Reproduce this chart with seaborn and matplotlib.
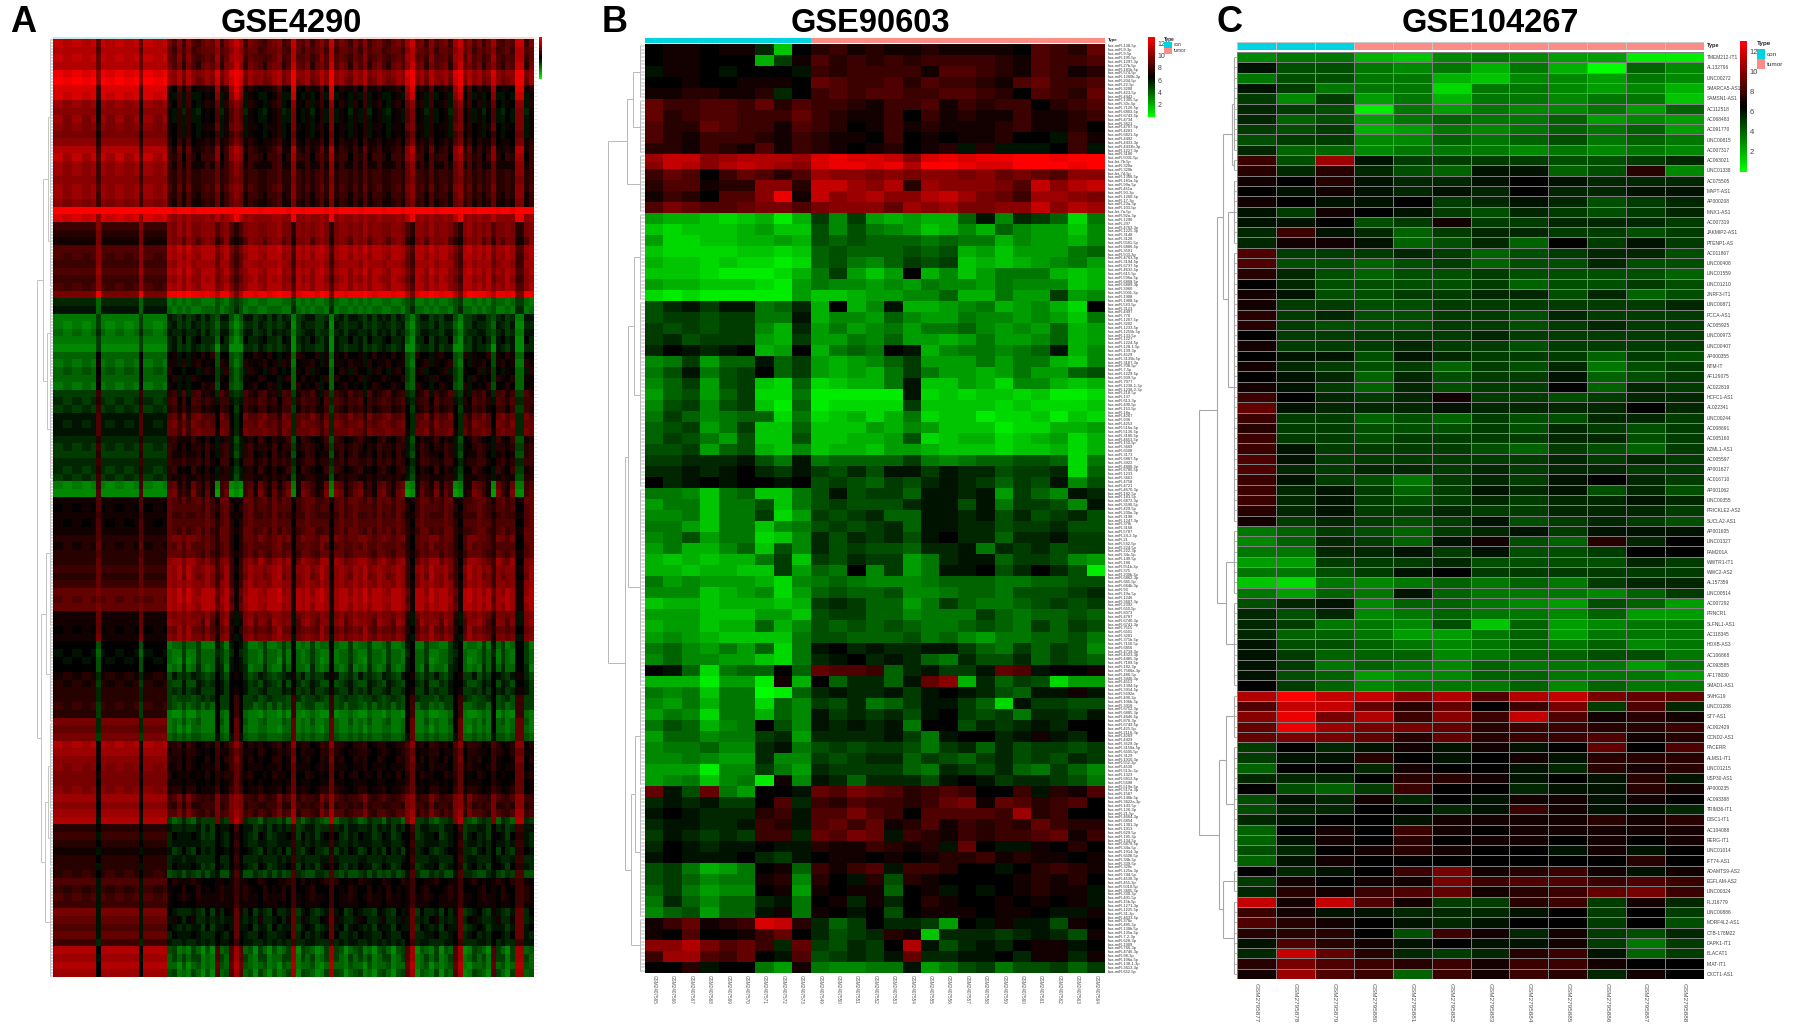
import numpy as np
import matplotlib
matplotlib.use("Agg")
import matplotlib.pyplot as plt
from matplotlib.colors import LinearSegmentedColormap, ListedColormap
import seaborn as sns

W, H = 1796, 1033

# ---------------------------------------------------------------
# Values: one character per cell, base 36, value = int(c, 36) / 2
# 0 = bright green (0), d = black (6.5), q = bright red (13)
# ---------------------------------------------------------------

# Panel A: expression blocks by sample cluster (10 clusters)
A_BANDS = [
    "nminlkjhig", "mmhmkjigih", "nmimlkihhg", "mminkjjhif",
    "pokpomlkkj", "qpkpnmlkji",
    "oogolhfdee", "ongnkgecdc",
    "lkekigfdec", "kkejhfecdb", "ljejhfecdc",
    "kjfjifedec", "jjeigfeddc", "kkfjhgfdee",
    "mmgmkigefe", "nlhlkhgfgd", "lkgkihgeee",
    "lkgkihgfgf", "kkgjihgfgf", "lkhkjihfgf", "lkgkihgfge", "kjgjihgefe",
    "qqqqqqqpqq",
    "onkpmllkkk",
    "ggkfhlkjkj", "ffjfhlkjkj",
    "eejefkkjjh",
    "hhkhjnmlml", "hgkgimmlmk", "ggkgimlkll", "hhlhjnmlmk", "ggkgimlkmk", "hgkhjmmlmk",
    "jjpjmqppop",
    "bb8a977878", "cc8b988787",
    "77a79acbac", "76a68abcab", "87b79bcbac", "77a68abcbd",
    "66a66abcab",
    "88d89cdefd", "78e79ceedf", "89d8adfdec", "88e8acdfde", "78d89cedfd",
    "aagabcfgeh", "bafbcdghfg", "abgadefgeg",
    "cchbdfhihj", "cbhbdgijhi", "cchbegiiij",
    "bbf9cefgde", "abgacdgfef", "aaf9cegedf", "bbgbdfgfeg", "bafacdfgde", "abg9cefeef",
    "76g76ehieg", "66h65fijeg",
    "eeheegihgi", "dehdfhihgh", "eegeegiggh", "edhdfhihhh", "eehefgihgi",
    "ffhdfjijhi", "efidfjihhh", "ffhefiiigh",
    "ffidglklij", "ggiegmlkkj", "ffidgmlkji", "ggiegllkjk",
    "iijeinmlmk", "hiiehnmlml", "iijeimmlmk",
    "eeicfkkjij", "eeiceklkhj", "deidfljihi", "eejcelkjij",
    "dd9dc8787a", "cd8db7878a", "dc9dc6878a", "dd9dc7788b",
    "efbeda9cab", "feadd9a9bc", "ffbedaabac",
    "ffbgdaa9ba", "gfagd8a98a", "ffagd67678",
    "jjbid77879", "iibid67878", "jjaic88989",
    "mlekhgffed", "lleigfefde", "kkejgffedd", "kjdigfeeed", "jjeifefdde", "jjdifeeedd", "kjeigfefed",
    "llekjjghfg", "kkdkjigfgf", "lleljjhhfg",
    "mmcmj9a8ab",
    "ffdgdbcbac", "ggcfdcbdac", "ffdgdcbcbc", "eecfdbcabd", "ffdgdcbcbb", "ffcfdcbdac",
    "fgdhcb9ab9",
    "hhcgeedfde", "gfcgededdf", "hgcgeeedef", "ggcgededee",
    "jjciebdcab", "iicicdcebb", "hhcicbdcac", "iicidcbdbc",
    "ggbgdbcbbc",
    "mmdlh79a68", "llclh88a7a", "mmdmi68879", "lldlh79a68",
]
# sample -> cluster, 24 con then 77 tumor
A_SAMPLE_CLUSTER = ("001100110" "2" "01100110" "2" "00110"
                    "6759579868496434"
                    "96879865973876985737"
                    "68967598679867438695"
                    "786943857698479873396")
A_CON_N = 24

# Panel B: 9 con samples | 16 tumor samples
B_ROWS = [
    "deedeeb3d fgef eefe eeed hgfi", "deeddd4ae hfgf gfgg ggfe hggh",
    "ceedcdddc gfgg ggeh hgfe hgef", "ddeddeeed ihgg hfhg gfeh iggh",
    "eeffeefbd ghgh hggh hgfd hgfi",
    "igghhgifh ggfe gghe gfgg dfgh", "ifghhgggi gfee gdge feeg eefg",
    "hffihggeh gfde gefe eefg eefd", "hfegggfeg feed gded eefd dcge",
    "ffegfeheg fede fdef cfcc cdgc",
    "lnnklmmml opoo nkop oppq qpqq", "knmkmnmlk oppo pmqq pooq qqpq",
    "gihdgihfh lkkj kjkk jkij ihkk", "fhheffkkf nnlk mflk kkjh nkmn",
    "egfdhhkpe nklm kkmn ljig llkj", "hjihhijjh jkkk ilkl jjkk nkml",
    "544323414 a6a5 4544 8c6b a827", "323334533 9697 6534 6486 5536",
    "522334454 9898 8878 7746 5546", "322223323 8988 8989 4535 5578",
    "433232212 8976 8a9a 3434 5675", "333211124 7a53 5d46 3577 7434",
    "544333215 7665 6576 6576 6634", "212111115 3345 5668 4475 5a56",
    "9bcacc78b 4d46 c445 6745 642d", "9aa9aa77c 4665 8655 7665 6537",
    "a9a9aa64b 5756 7577 8656 5845", "ab9aaa54a 5576 8554 5755 6845",
    "bdcbcd45d 4787 dc46 7767 8c46",
    "67a588c8a 5456 8a55 5757 7436", "79c79ad8a 5454 7a75 5457 5589",
    "68a59a328 2344 7c33 5426 6434", "58958a227 1111 1c23 2332 3112",
    "69a69a318 1222 2a33 3323 2223", "7a8678827 2342 4723 3122 3132",
    "89a57a338 3335 4653 3312 2445", "8a9759339 3344 5923 4423 4524",
    "99a589436 3443 5543 3323 3424",
    "aabbbc97c 7888 8a76 7889 9827", "bbcbcdbac a9b9 ccac bb9a ab28",
    "dbcdcddcd 9a98 a9bc ba8a 9c69",
    "776378337 9c9a a8cc bc5a 86cb", "577377937 9a99 9bcc 9c7a a96c",
    "667377a25 a9ab 88cc bc9b 9ab9", "775377367 9a9a b8cc bb9a ab99",
    "679577236 b9ba b9cd bb8b bcaa", "574468396 b9a9 98bb c7ba b9aa",
    "4343447a3 a9ba a57b cc8a a965", "4434433a5 87d6 a57c cd9b db91",
    "756555426 7876 6678 8877 8899", "666345625 8988 9667 8879 99ab",
    "344344434 aba8 857a 8778 9a9a", "555333553 9aa8 8677 7a87 8898",
    "455344846 9898 9877 8987 a8a9", "565433337 9988 8978 6577 8897",
    "786575827 cdbc bbcc a87a 8a96", "686655327 bcdb cb87 b99b 8a98",
    "dc82788d8 ihhg 8bca acih cdde", "4441551e4 d8bb 8cik 4b8a 9255",
    "767377018 bcbb cacd cb98 ccec", "657477286 a9b7 8acc a82c aa99",
    "576277486 caba b9cd a9a7 bbac", "798467d96 cbcb c7dd 9bab cbdd",
    "588677ab5 bbbb ca7c ddbc ecbd", "677866bc7 9a9a a97a b8b9 aa9a",
    "667655b66 a9ab b8a9 8ab9 a9ba", "555166a75 baaa a87b a9b8 7a86",
    "5673671e6 cb8b bb9c dcab ba97",
    "ic9i75ddc ihji hfgh gddg cfeh", "bcbcaadhb gfhg gfgi jeih fghd",
    "cdcbbbfgc hhjh gdhh hhgl fgdd", "bccbbcgfc higi efhe gfgf igff",
    "acbabaggb ihji cgfe gfgg hieg", "bdcbccdcc feeg fefc idcc edfd",
    "cdcccdbac deed edef fgef eede", "9a7457de8 gegh cggf ddcd fgfe",
    "9a8677ef6 fdcf 9fed ddde fefd", "8a7566de5 edee 8dec dcde feec",
    "7b8688bc7 debe bdfe dded edec", "689588ce7 edcd 9dee edee dcce",
    "egiefgonf b8ad bba5 dcec c9ed", "edhddegid b9ab fe3b bbab cb9e",
    "kkmjhigbi a9ba dmc9 bcbd eecd", "gllhgidch 9aba cibb ccdb eebe",
    "ddfcdd75e 7667 7c57 9a79 9a8a",
]
B_ROW_COUNT = [3] * 10 + [2] * 2 + [3] * 73
B_CON_N = 9
B_SAMPLES = ["GSM2407%d" % n for n in list(range(565, 574)) + list(range(549, 565))]
B_MIRNAS = """138-5p 9-3p 9-5p 195-5p 1297-3p 27b-5p 181b-5p 574-5p 1260b-3p 204-5p 22-5p 3200 423-5p 4443
1305-5p 30c-5p 7126-5p 6803-5p 6743-5p 4734 3621 4707-5p 4281 6821-5p 4492 4433-3p 4433b-3p 1227-3p 3180 5001-5p
let-7b-5p 320a 320b let-7d-5p 1306-5p 181a-5p 99a-5p 451a 93-3p 1260-5p 17-3p 23a-3p 103-5p let-7a-5p 92a-3p 1290
297 4763-3p 1225-3p 3148 3128 5581-5p 6886-5p 3591 503-3p 4763-5p 3194-5p 6737-5p 4632-5p 615-5p 596a-5p 6808-5p
6889-3p 3960 5001-3p 1908 1908-5p 583-5p 3123 4497 770 1207-5p 3202 1233-5p 1255b-5p 133-5p 1227 1224-5p 128-1-5p
139-3p 4529 3135b-5p 3187-3p 708-5p 7-5p 1229-5p 939-5p 7977 1238-1-3p 1238-2-3p 218-5p 137 613-3p 490-5p 153-5p
18a 4267 936 4253 516a-5p 5136-5p 3180-5p 4653-5p 150-5p 3669 6508 3173 6887-5p 3922 4800-3p 6780-5p 1233 3663
4758 4721 4670-3p 182-5p 183-5p 6872-3p 3590-5p 429-5p 200a-3p 3198 1247-3p 378i 3168 5787 24-2-5p 21 542-5p
224-5p 222-3p 34c-5p 149-5p 186 551b-3p 375 200b-3p 6862-3p 665-5p 664b-3p 93 19a-5p 1246 3607-3p 2392 650-5p
8073 4787 6740-3p 6741-3p 7515 6501 3201 371b-5p 7150-5p 6856 4739-3p 4323-3p 4485-3p 7109-5p 182-3p 7566a-3p
486-5p 3940-3p 4513 1304-5p 3914-5p 5692a 490-3p 106b-3p 3918 6752-3p 6885-3p 4646-5p 876-3p 6749-5p 425-5p 2116-3p
4269 4429 3529-3p 3150a-5p 6505-5p 3129 1910-3p 552-3p 4530 513c-3p 1323 6812-5p 5698 519a-5p 517a-3p 1587 146b-5p
3622a-3p 143-5p 126-3p 21-5p 4664-3p 6854 1301-3p 1913 629-5p 195-3p 134-5p 6878-5p 34a-5p 1914-3p 6508-5p 34b-3p
339-5p 320c 125a-3p 744-5p 4530-3p 455-3p 5010-5p 3605-3p 330-3p 491-5p 15b-5p 1271-3p 1225-5p 31-3p 4633-5p 378c
485-3p 130b-5p 135a-5p 7-2-3p 628-3p 1909 766-3p 4746-3p 98-3p 106a-5p 138-1-3p 3613-3p 652-5p""".split()

# Panel C: 3 con samples, 9 tumor samples
C_ROWS = [
    "677436765511", "c99767474086", "799774366576", "ca7772776564", "a6a574776773",
    "ba9175766758", "b89578778565", "a9a457678785", "9aa668789787", "b88677767676",
    "g9lcaaaa99ab", "fbfb98cc89f6", "edfcbbcdcbbb", "dcecbcbdbbcc", "edccdabcb9ab",
    "caedca9ba9ab", "ccd9aeaabbba", "bgcb8abbaa9a", "beec89b8daca", "haaaba89abb9",
    "h9989a899b99", "fb9899a99998", "db9999a899a9", "ec99aabb9b89", "eaa99aaaaaab",
    "fab99aa9baaa", "fa999aa9abaa", "daaaaabaaaaa", "eaaabaa9aaaa", "dcc9cbaaa8a9",
    "eba9a8a9b79a", "dcb8b9aac89a", "eca8b9aad8ba", "gdbabeaa9abb", "icbbbcbbbbdb",
    "gaa898a99bba", "faa999a9ba9a", "gaa9aaaabb9a", "gcaaaa98a98a", "hcaaaaaababa",
    "hbabbababbaa", "gca97abacdba", "gbca8acbc9b9", "gbca9ababbcb", "fbcaabaabbba",
    "eaba9ac9aba9", "78a98abcaccc", "68ba8ce98fbd", "77bbcac99add", "55aaab9999ba",
    "779acdaaaaaa", "327678787abb", "7587c877768a", "9bc688765985", "b9b678776855",
    "ba7769385677", "b88755785777", "c99876787867", "ca8886788997", "ca7876877757",
    "c98566887775", "da8677786877", "mqnnkmhmnjii", "hnnifidgjahb", "kpjmgkgnhefe",
    "ipljjifggffg", "ijjififgghef", "adbcececdidh", "accfdcdecfff", "8ddbeddcbfef",
    "bbbdffecdcfc", "d98agddbccfe", "9cbebdceeced", "9bbddbcgeccb", "bcddceeeefef",
    "8dedgedeeeee", "8cedfdeedede", "9bdefeddcecd", "8cedddddddfd", "dbcdgjefgece",
    "aedeejghhghg", "bfeghiefgijg", "nenheaafgaeb", "geccbbbcdada", "hfedcbcddad9",
    "fffd9gebea9b", "chfecdccea7a", "bnifbabfgc8a", "fjhgfgeggedd", "elhg8gegfbed",
]
C_CON_N = 3
C_SAMPLES = ["GSM2795%d" % n for n in range(877, 889)]
C_GENES = ["TMEM212-IT1", "AL132796", "LINC00272", "SMARCA5-AS1", "SAMSN1-AS1", "AC112518", "AC068483",
           "AC091770", "LINC00815", "AC007317", "AC063021", "LINC01338", "AC075505", "MAPT-AS1", "AP000208",
           "MNX1-AS1", "AC007319", "JAKMIP2-AS1", "PTENP1-AS", "AC011867", "LINC00408", "LINC01559",
           "LINC01210", "ZNRF3-IT1", "LINC00871", "PCCA-AS1", "AC005925", "LINC00973", "LINC00407",
           "AP000355", "NTM-IT", "AF129075", "AC022819", "HCFC1-AS1", "AL022341", "LINC00244", "AC008691",
           "AC005160", "KZML1-AS1", "AC005597", "AP001627", "AC016710", "AP001062", "LINC00355",
           "PRICKLE2-AS2", "SUCLA2-AS1", "AP001605", "LINC01327", "FAM201A", "WWTR1-IT1", "WWC2-AS2",
           "AL157359", "LINC00514", "AC007292", "PRNCR1", "SLFNL1-AS1", "AC118345", "HOXB-AS3", "AC106868",
           "AC093585", "AF178030", "SMAD1-AS1", "SNHG19", "LINC01288", "ST7-AS1", "AC002429", "CCND2-AS1",
           "PACERR", "ALMS1-IT1", "LINC01215", "USP30-AS1", "AP000235", "AC093388", "TRIM36-IT1",
           "DISC1-IT1", "AC104088", "RERG-IT1", "LINC01014", "IFT74-AS1", "ADAMTS9-AS2", "EGFLAM-AS2",
           "LINC00324", "FLJ16779", "LINC00886", "MORF4L2-AS1", "CTB-178M22", "DAPK1-IT1", "BLACAT1",
           "MIAT-IT1", "CXCT1-AS1"]

# cluster trees: (merge height, upper, lower), an int is a group of leaves
A_TREE = (1.0, (0.62, (0.3, 52, 31), (0.4, 30, 34)),
          (0.72, (0.45, 49, 32), (0.5, (0.3, 29, 19), 37)))
B_TREE = (1.0, (0.5, (0.33, 15, 15), 16),
          (0.54, (0.45, (0.3, 24, 51), 54), (0.38, (0.28, 27, 36), 15)))
C_TREE = (1.0, (0.52, (0.36, (0.14, 10, 2), (0.24, 7, 27)), (0.3, 7, 9)),
          (0.48, (0.3, 5, 12), (0.36, 3, 8)))

CON_COLOR = "#00d3e0"
TUMOR_COLOR = "#fb8d86"
GBR = LinearSegmentedColormap.from_list("gbr", ["#00ff00", "#000000", "#ff0000"])
VMIN, VMAX = 0, 13


def decode(rows, n):
    out = []
    for r in rows:
        r = r.replace(" ", "").ljust(n, "d")[:n]
        out.append([int(c, 36) / 2 for c in r])
    return np.array(out)


# ---------------------------------------------------------------
# Layout helpers, pixel boxes of the 1796x1033 figure
# ---------------------------------------------------------------
def box(fig, x0, y0, x1, y1):
    return fig.add_axes([x0 / W, 1 - y1 / H, (x1 - x0) / W, (y1 - y0) / H])


def put_text(fig, x, y, s, **kw):
    fig.text(x / W, 1 - y / H, s, **kw)


def draw_tree(ax, node, start, color, lw, leaf_h, leaf_color, leaf_lw):
    if isinstance(node, int):
        ys = start + np.arange(node) + 0.5
        ax.hlines(ys, 0, leaf_h, color=leaf_color, lw=leaf_lw)
        ax.vlines(leaf_h, ys[0], ys[-1], color=color, lw=lw)
        return (ys[0] + ys[-1]) / 2, leaf_h, start + node
    h, upper, lower = node
    y1, h1, nxt = draw_tree(ax, upper, start, color, lw, leaf_h, leaf_color, leaf_lw)
    y2, h2, nxt = draw_tree(ax, lower, nxt, color, lw, leaf_h, leaf_color, leaf_lw)
    ax.hlines([y1, y2], [h1, h2], h, color=color, lw=lw)
    ax.vlines(h, y1, y2, color=color, lw=lw)
    return (y1 + y2) / 2, h, nxt


def tree_panel(fig, tree, n_leaves, rect, color, lw, leaf_h, leaf_color, leaf_lw):
    ax = box(fig, *rect)
    draw_tree(ax, tree, 0, color, lw, leaf_h, leaf_color, leaf_lw)
    ax.set_xlim(1.0, 0)
    ax.set_ylim(n_leaves, 0)
    ax.axis("off")


def type_strip(fig, n_con, n_total, rect, colors, lw=0):
    ax = box(fig, *rect)
    types = np.array([[0] * n_con + [1] * (n_total - n_con)])
    sns.heatmap(types, ax=ax, cmap=ListedColormap(colors), vmin=0, vmax=1, cbar=False,
                xticklabels=False, yticklabels=False, linewidths=lw, linecolor="#c8c8c8")


def legend_block(fig, x, y0, y1, title_y, size, text_x):
    ax = box(fig, x, y0, x + 8, y1)
    sns.heatmap([[0], [1]], ax=ax, cmap=ListedColormap([CON_COLOR, TUMOR_COLOR]), cbar=False,
                xticklabels=False, yticklabels=False)
    put_text(fig, x, title_y, "Type", fontsize=size, fontweight="bold", color="#222222", va="center")
    mid = (y0 + y1) / 2
    put_text(fig, text_x, (y0 + mid) / 2, "con", fontsize=size, color="#333333", va="center")
    put_text(fig, text_x, (mid + y1) / 2, "tumor", fontsize=size, color="#333333", va="center")


def heat(fig, matrix, rect, cbar_rect, cbar_size, ticks=True, **kw):
    ax = box(fig, *rect)
    cax = box(fig, *cbar_rect)
    sns.heatmap(matrix, ax=ax, cmap=GBR, vmin=VMIN, vmax=VMAX, cbar_ax=cax, **kw)
    ax.collections[0].colorbar.outline.set_visible(False)
    if ticks:
        cax.set_yticks([2, 4, 6, 8, 10, 12])
        cax.tick_params(length=0, pad=2, labelsize=cbar_size, labelcolor="#444444")
    else:
        cax.set_yticks([])
    return ax


def main():
    sns.set_theme(style="white")
    plt.rcParams["font.family"] = ["Liberation Sans", "DejaVu Sans"]
    fig = plt.figure(figsize=(W / 100, H / 100), dpi=100, facecolor="white")

    # titles and panel letters
    for x, s in [(291, "GSE4290"), (870, "GSE90603"), (1490, "GSE104267")]:
        put_text(fig, x, 31.5, s, fontsize=23.5, fontweight="bold", ha="center", va="baseline", color="black")
    for x, s in [(10, "A"), (602, "B"), (1217, "C")]:
        put_text(fig, x, 31.5, s, fontsize=26, fontweight="bold", ha="left", va="baseline", color="black")

    # ---- panel A
    clusters = [int(c) for c in A_SAMPLE_CLUSTER]
    a_matrix = decode(A_BANDS, 10)[:, clusters]
    n_a = a_matrix.shape[1]
    ax = heat(fig, a_matrix, (53, 39, 534, 977), (538.5, 37, 541.5, 79), 4, ticks=False,
              xticklabels=False, yticklabels=False)
    ax.yaxis.tick_right()
    ax.set_yticks(np.arange(0, a_matrix.shape[0], 0.5))
    ax.set_xticks(np.arange(n_a) + 0.5)
    ax.tick_params(axis="both", length=2, width=0.4, color="#cccccc", labelright=False, labelbottom=False, labelleft=False)
    type_strip(fig, A_CON_N, n_a, (53, 37, 534, 38.6), ["#c4ecf0", "#f6d8d6"])
    tree_panel(fig, A_TREE, 313, (37, 39, 53, 977), "#c4c4c4", 0.7, 0.2, "#5a5a5a", 0.3)

    # ---- panel B
    b_matrix = np.repeat(decode(B_ROWS, 25), B_ROW_COUNT, axis=0)
    n_rows = b_matrix.shape[0]
    ax = heat(fig, b_matrix, (645, 44, 1105, 973), (1148, 37, 1155, 117), 5, xticklabels=B_SAMPLES, yticklabels=False)
    labels = [s if s.startswith("let") else "hsa-miR-" + s for s in B_MIRNAS]
    labels = [s.replace("let-", "hsa-let-") for s in labels]
    ax.yaxis.tick_right()
    ax.set_yticks((np.arange(len(labels)) + 0.5) * n_rows / len(labels))
    ax.set_yticklabels(labels, rotation=0, fontsize=2.9, color="#333333")
    ax.tick_params(axis="y", length=0, pad=2)
    ax.tick_params(axis="x", length=0, pad=1.5, labelsize=3.3, labelcolor="#555555")
    plt.setp(ax.get_xticklabels(), rotation=270, ha="center", va="top")
    type_strip(fig, B_CON_N, 25, (645, 38, 1105, 43), [CON_COLOR, TUMOR_COLOR])
    put_text(fig, 1108, 40.5, "Type", fontsize=3.2, fontweight="bold", color="#222222", va="center")
    legend_block(fig, 1164, 42, 54, 39, 3.4, 1174)
    tree_panel(fig, B_TREE, n_rows, (608, 44, 645, 973), "#b8b8b8", 0.7, 0.14, "#777777", 0.35)

    # ---- panel C
    c_matrix = decode(C_ROWS, 12)
    ax = heat(fig, c_matrix, (1237, 52, 1704, 979), (1740, 41, 1747, 172), 5.5,
              xticklabels=C_SAMPLES, yticklabels=C_GENES, linewidths=0.7, linecolor="#7f7f7f")
    ax.yaxis.tick_right()
    ax.tick_params(axis="y", length=0, pad=2, labelsize=3.5, labelcolor="#444444", labelrotation=0)
    ax.tick_params(axis="x", length=0, pad=3, labelsize=4.6, labelcolor="#555555")
    plt.setp(ax.get_xticklabels(), rotation=270, ha="center", va="top")
    type_strip(fig, C_CON_N, 12, (1237, 41.5, 1704, 49.5), [CON_COLOR, TUMOR_COLOR], lw=0.5)
    put_text(fig, 1707, 45.5, "Type", fontsize=4, fontweight="bold", color="#222222", va="center")
    legend_block(fig, 1757, 49, 69, 44, 4.6, 1767)
    tree_panel(fig, C_TREE, 90, (1199, 52, 1237, 979), "#a8a8a8", 0.8, 0.09, "#a8a8a8", 0.6)

    fig.savefig("out.png", dpi=100, facecolor="white")


if __name__ == "__main__":
    main()
